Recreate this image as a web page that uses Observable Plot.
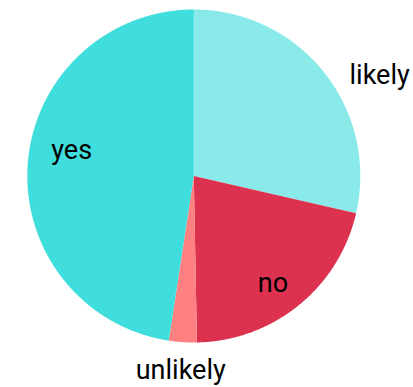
<!DOCTYPE html>
<html>
<head>
<meta charset="utf-8">
<script src="https://cdn.jsdelivr.net/npm/d3@7"></script>
<script src="https://cdn.jsdelivr.net/npm/@observablehq/plot@0.6"></script>
<style>
  html, body { margin: 0; padding: 0; background: #fff; }
</style>
</head>
<body>
<div id="chart"></div>
<script>
const labels = ["likely", "no", "unlikely", "yes"];
const values = [28.6, 21.1, 2.7, 47.6];
const colors = ["#8aeaea", "#dc3250", "#ff8080", "#40dddd"];

// label placement style (radius factor in pie units, pixel nudges)
const labelStyle = {
  likely:   {r: 1.0,  dx: 55.6, dy: 2.9},
  no:       {r: 0.75, dx: 0.5,  dy: 10.5},
  unlikely: {r: 1.0,  dx: -2.1, dy: 28.1},
  yes:      {r: 0.75, dx: 2.4,  dy: -16.7}
};

const data = labels.map((label, i) => ({label, value: values[i]}));
const arcs = d3.pie().sort(null).value(d => d.value)(data);

const points = [];
for (const a of arcs) {
  const label = a.data.label;
  points.push({label, x: 0, y: 0});
  const n = Math.max(2, Math.ceil((a.endAngle - a.startAngle) / (Math.PI / 720)));
  for (let k = 0; k <= n; k++) {
    const t = a.startAngle + (a.endAngle - a.startAngle) * k / n;
    points.push({label, x: Math.sin(t), y: Math.cos(t)});
  }
}

const textMarks = arcs.map(a => {
  const label = a.data.label;
  const s = labelStyle[label];
  const mid = (a.startAngle + a.endAngle) / 2;
  return Plot.text([{label, x: s.r * Math.sin(mid), y: s.r * Math.cos(mid)}], {
    x: "x", y: "y", text: "label",
    dx: s.dx, dy: s.dy,
    fontSize: 27, fill: "#000", textAnchor: "middle"
  });
});

const chart = Plot.plot({
  width: 413,
  height: 387,
  margin: 0,
  style: {fontFamily: "Roboto, 'Liberation Sans', sans-serif", background: "#fff"},
  x: {domain: [-1, 1], range: [26.8, 359.8], axis: null},
  y: {domain: [-1, 1], range: [342, 9], axis: null},
  color: {domain: labels, range: colors},
  marks: [
    Plot.line(points, {x: "x", y: "y", z: "label", fill: "label", stroke: null}),
    ...textMarks
  ]
});
document.getElementById("chart").appendChild(chart);
</script>
</body>
</html>
